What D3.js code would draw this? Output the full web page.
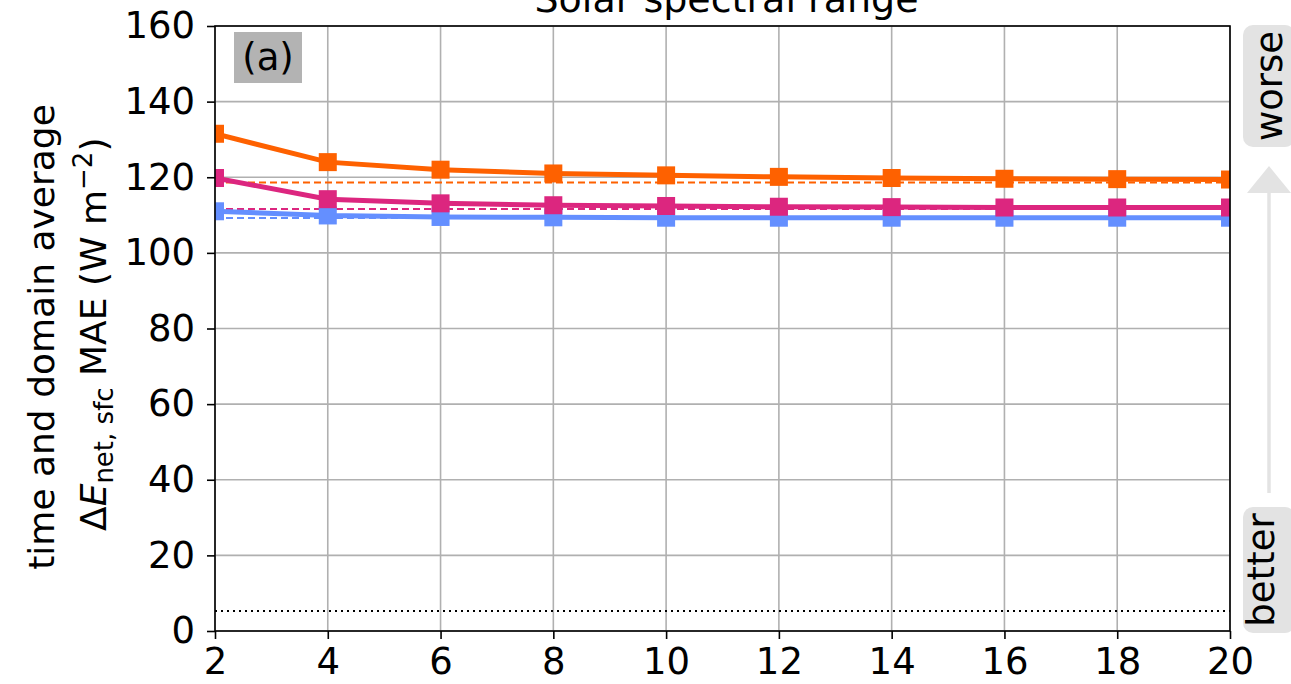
<!DOCTYPE html>
<html>
<head>
<meta charset="utf-8">
<script src="https://cdn.jsdelivr.net/npm/d3@7"></script>
<style>
  body { margin: 0; background: #fff; }
  text { font-family: "DejaVu Sans", sans-serif; }
</style>
</head>
<body>
<svg id="chart"></svg>
<script>
// data
const xVals = [2, 4, 6, 8, 10, 12, 14, 16, 18, 20];
const orangeVals  = [131.5, 124.0, 122.0, 121.0, 120.5, 120.1, 119.8, 119.6, 119.5, 119.4];
const magentaVals = [119.8, 114.2, 113.1, 112.6, 112.4, 112.2, 112.1, 112.0, 112.0, 112.0];
const blueVals    = [111.0, 109.9, 109.5, 109.4, 109.3, 109.3, 109.3, 109.3, 109.3, 109.3];
const orangeRef = 118.6;
const magentaRef = 111.6;
const blueRef = 109.2;
const dottedRef = 5.3;
const yTicks = [0, 20, 40, 60, 80, 100, 120, 140, 160];
const xTicks = [2, 4, 6, 8, 10, 12, 14, 16, 18, 20];

const series = [
  {vals: orangeVals, ref: orangeRef, color: "#fe6100"},
  {vals: magentaVals, ref: magentaRef, color: "#dc267f"},
  {vals: blueVals, ref: blueRef, color: "#648fff"}
];

const width = 1291, height = 684;
const mLeft = 215, mRight = 1230, mTop = 26, mBottom = 631;
const fs = 37;

const svg = d3.select("#chart").attr("width", width).attr("height", height);

const x = d3.scaleLinear().domain([2, 20]).range([mLeft, mRight]);
const y = d3.scaleLinear().domain([0, 160]).range([mBottom, mTop]);

// grid
svg.append("g").selectAll("line").data(xTicks).enter().append("line")
  .attr("x1", d => x(d)).attr("x2", d => x(d))
  .attr("y1", mTop).attr("y2", mBottom)
  .attr("stroke", "#b0b0b0").attr("stroke-width", 1.6);
svg.append("g").selectAll("line").data(yTicks).enter().append("line")
  .attr("x1", mLeft).attr("x2", mRight)
  .attr("y1", d => y(d)).attr("y2", d => y(d))
  .attr("stroke", "#b0b0b0").attr("stroke-width", 1.6);

svg.append("clipPath").attr("id", "clip")
  .append("rect").attr("x", mLeft).attr("y", mTop)
  .attr("width", mRight - mLeft).attr("height", mBottom - mTop);

const plot = svg.append("g").attr("clip-path", "url(#clip)");

// dotted reference
plot.append("line")
  .attr("x1", mLeft).attr("x2", mRight)
  .attr("y1", y(dottedRef)).attr("y2", y(dottedRef))
  .attr("stroke", "#000").attr("stroke-width", 2)
  .attr("stroke-dasharray", "2,4");

// dashed reference lines
series.forEach(s => {
  plot.append("line")
    .attr("x1", mLeft).attr("x2", mRight)
    .attr("y1", y(s.ref)).attr("y2", y(s.ref))
    .attr("stroke", s.color).attr("stroke-width", 2)
    .attr("stroke-dasharray", "7,4");
});

const line = d3.line().x((d, i) => x(xVals[i])).y(d => y(d));

// blue first so orange ends up on top
series.slice().reverse().forEach(s => {
  plot.append("path").datum(s.vals)
    .attr("d", line)
    .attr("fill", "none").attr("stroke", s.color).attr("stroke-width", 5);
  plot.selectAll(null).data(s.vals).enter().append("rect")
    .attr("x", (d, i) => x(xVals[i]) - 9)
    .attr("y", d => y(d) - 9)
    .attr("width", 18).attr("height", 18)
    .attr("fill", s.color);
});

// axes
const yAxis = d3.axisLeft(y).tickValues(yTicks).tickSize(8).tickPadding(12);
const xAxis = d3.axisBottom(x).tickValues(xTicks).tickSize(8).tickPadding(9);
const gy = svg.append("g").attr("transform", `translate(${mLeft},0)`).call(yAxis);
const gx = svg.append("g").attr("transform", `translate(0,${mBottom})`).call(xAxis);
[gx, gy].forEach(g => {
  g.select(".domain").remove();
  g.selectAll("line").attr("stroke", "#000").attr("stroke-width", 1.6);
  g.selectAll("text").attr("font-size", fs).attr("fill", "#000")
    .style("font-family", "DejaVu Sans");
});

svg.append("rect").attr("x", mLeft).attr("y", mTop)
  .attr("width", mRight - mLeft).attr("height", mBottom - mTop)
  .attr("fill", "none").attr("stroke", "#000").attr("stroke-width", 1.6);

// title (cut at the top edge like the original)
svg.append("text").attr("x", (mLeft + mRight) / 2 + 4).attr("y", 12)
  .attr("text-anchor", "middle").attr("font-size", 38).text("Solar spectral range");

// panel label
svg.append("rect").attr("x", 234).attr("y", 32).attr("width", 68).attr("height", 51)
  .attr("fill", "#b3b3b3");
svg.append("text").attr("x", 268).attr("y", 70).attr("text-anchor", "middle")
  .attr("font-size", fs).text("(a)");

// y label
const yl = svg.append("g").attr("transform", "rotate(-90)");
yl.append("text").attr("x", -337).attr("y", 54).attr("text-anchor", "middle")
  .attr("font-size", 36).text("time and domain average");
const yl2 = yl.append("text").attr("x", -531).attr("y", 106).attr("text-anchor", "start")
  .attr("font-size", 36);
yl2.append("tspan").text("Δ");
yl2.append("tspan").attr("font-style", "italic").text("E");
yl2.append("tspan").attr("font-size", 26).attr("dy", 7).text("net, sfc");
yl2.append("tspan").attr("dy", -7).text(" MAE (W m");
yl2.append("tspan").attr("font-size", 26).attr("dy", -14).text("−2");
yl2.append("tspan").attr("dy", 14).text(")");

// better / worse arrow
const ax = 1269;
svg.append("line").attr("x1", ax).attr("x2", ax).attr("y1", 493).attr("y2", 190)
  .attr("stroke", "#e3e3e3").attr("stroke-width", 3.5);
svg.append("path")
  .attr("d", `M${ax - 22},193 L${ax + 22},193 L${ax},166 Z`)
  .attr("fill", "#e3e3e3");
const labels = [
  {t: "worse", y0: 25, y1: 147, base: 1282},
  {t: "better", y0: 507, y1: 633, base: 1274}
];
labels.forEach(l => {
  svg.append("rect").attr("x", 1243).attr("y", l.y0).attr("width", 52).attr("height", l.y1 - l.y0)
    .attr("rx", 10).attr("fill", "#e3e3e3");
  svg.append("text")
    .attr("transform", `translate(${l.base},${(l.y0 + l.y1) / 2}) rotate(-90)`)
    .attr("text-anchor", "middle").attr("font-size", fs).text(l.t);
});
</script>
</body>
</html>
